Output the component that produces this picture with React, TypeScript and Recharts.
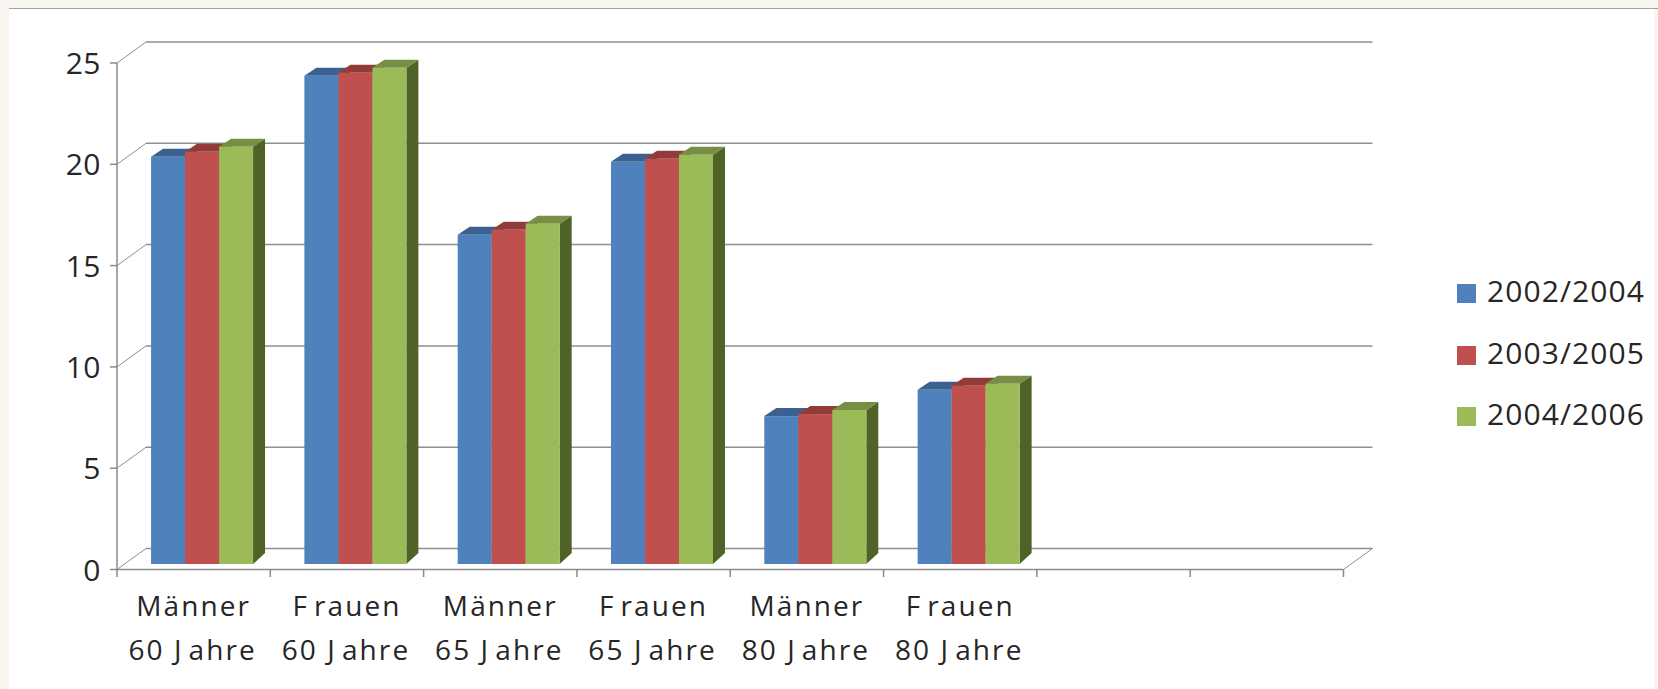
import React from "react";
import { BarChart, Bar, XAxis, YAxis, CartesianGrid, Legend } from "recharts";

const categories = ["Männer|60 Jahre", "Frauen|60 Jahre", "Männer|65 Jahre", "Frauen|65 Jahre", "Männer|80 Jahre", "Frauen|80 Jahre", " ", "  "];
const s2002: (number | null)[] = [20.1, 24.1, 16.25, 19.85, 7.3, 8.6, null, null];
const s2003: (number | null)[] = [20.35, 24.25, 16.5, 20.0, 7.4, 8.8, null, null];
const s2004: (number | null)[] = [20.6, 24.5, 16.8, 20.2, 7.6, 8.9, null, null];
const yTicks = [0, 5, 10, 15, 20, 25];
const seriesNames = ["2002/2004", "2003/2005", "2004/2006"];

const rows = categories.map((c, i) => ({ cat: c, a: s2002[i], b: s2003[i], c: s2004[i] }));

const FONT = "'Open Sans', sans-serif";
const TEXT = "#262626";
const AXIS = "#8a8a8a";
const GRID = "#8f8f8f";
const WALL_DX = 29;
const WALL_DY = 21;
const BAR_DX = 8;
const BAR_DY = 5.5;

const Bar3D = (front: string, top: string, side: string) => (p: any) => {
  if (p.value == null || !p.height) return <g />;
  const x = p.x + BAR_DX;
  const y = p.y - BAR_DY;
  const w = p.width;
  const b = y + p.height;
  const dx = 12;
  return (
    <g>
      <polygon points={`${x + w},${y} ${x + w + dx},${y - 8} ${x + w + dx},${b - 11} ${x + w},${b}`} fill={side} />
      <polygon points={`${x},${y} ${x + dx},${y - 8} ${x + w + dx},${y - 8} ${x + w},${y}`} fill={top} />
      <rect x={x} y={y} width={w} height={p.height} fill={front} />
    </g>
  );
};

const GridLine = (p: any) => {
  const bottom = p.y + p.height;
  const isFloor = Math.abs(p.y1 - bottom) < 1;
  const yb = p.y1 - WALL_DY;
  return (
    <g key={p.key}>
      <line x1={p.x1} y1={p.y1} x2={p.x1 + WALL_DX} y2={yb} stroke={GRID} strokeWidth={1} />
      <line x1={p.x1 + WALL_DX} y1={yb} x2={p.x2 + WALL_DX} y2={yb} stroke={GRID} strokeWidth={1.5} />
      {isFloor && <line x1={p.x2} y1={p.y1} x2={p.x2 + WALL_DX} y2={yb} stroke={GRID} strokeWidth={1} />}
    </g>
  );
};

// The reference renders a wide gap after the capitals F and J.
const Spaced = ({ text }: { text: string }) => {
  const m = text.match(/^(.*?)([FJ])(.*)$/);
  if (!m) return <>{text}</>;
  return (
    <>
      {m[1]}
      {m[2]}
      <tspan dx={5}>{m[3]}</tspan>
    </>
  );
};

const XTick = (p: any) => {
  const [l1, l2] = String(p.payload.value).split("|");
  const off = p.payload.offset ?? 0;
  const last = p.index === categories.length - 1;
  return (
    <g>
      <line x1={p.x - off} x2={p.x - off} y1={569.5} y2={577} stroke={AXIS} strokeWidth={1.5} />
      {last && <line x1={p.x + off} x2={p.x + off} y1={569.5} y2={577} stroke={AXIS} strokeWidth={1.5} />}
      {l2 && (
        <g fontFamily={FONT} fontSize={28} fill={TEXT} letterSpacing={2.1} textAnchor="middle">
          <text x={p.x} y={616}><Spaced text={l1} /></text>
          <text x={p.x - 1} y={660}><Spaced text={l2} /></text>
        </g>
      )}
    </g>
  );
};

const YTick = (p: any) => (
  <text x={p.x} y={p.y + 11} textAnchor="end" fontFamily={FONT} fontSize={30} letterSpacing={0.5} fill={TEXT}>
    {p.payload.value}
  </text>
);

const LegendBox = (p: any) => {
  const tops = [284, 346, 407];
  return (
    <div style={{ position: "relative", width: 200, height: 160 }}>
      {(p.payload || []).map((e: any, i: number) => (
        <div key={e.value} style={{ position: "absolute", left: 0, top: tops[i] - 285, height: 19, display: "flex", alignItems: "center" }}>
          <span style={{ width: 19, height: 19, background: e.color, display: "inline-block", marginRight: 11 }} />
          <span style={{ fontFamily: FONT, fontSize: 30, letterSpacing: 1.1, color: TEXT, lineHeight: "19px", whiteSpace: "nowrap", position: "relative", top: -3 }}>{e.value}</span>
        </div>
      ))}
    </div>
  );
};

export default function App() {
  return (
    <div style={{ position: "absolute", left: 0, top: 0, width: 1658, height: 689, background: "#f8f5ee", overflow: "hidden" }}>
      <div style={{ position: "absolute", left: 9, top: 9, width: 1645, height: 680, background: "#ffffff" }} />
      <div style={{ position: "absolute", left: 9, top: 7.5, width: 1649, height: 1.5, background: "#a3a3a3" }} />
      <div style={{ position: "absolute", left: 0, top: 0 }}>
        <BarChart
          width={1658}
          height={689}
          data={rows}
          margin={{ top: 63, right: 314.5, bottom: 59.5, left: 57 }}
          barGap={0}
          barCategoryGap="17%"
        >
          <CartesianGrid vertical={false} horizontal={GridLine as any} />
          <XAxis dataKey="cat" height={60} interval={0} tick={XTick as any} tickLine={false} axisLine={{ stroke: AXIS, strokeWidth: 1.5 }} />
          <YAxis width={60} domain={[0, 25]} ticks={yTicks} tick={YTick as any} tickSize={7} tickMargin={9} axisLine={{ stroke: AXIS, strokeWidth: 1.5 }} tickLine={{ stroke: AXIS, strokeWidth: 1.5 }} />
          <Legend content={LegendBox as any} layout="vertical" align="center" verticalAlign="middle" wrapperStyle={{ left: 1457, top: 285, width: 200, bottom: "auto" }} />
          <Bar dataKey="a" name={seriesNames[0]} fill="#4f81bd" isAnimationActive={false} shape={Bar3D("#4f81bd", "#3a618f", "#35567e") as any} />
          <Bar dataKey="b" name={seriesNames[1]} fill="#c0504d" isAnimationActive={false} shape={Bar3D("#c0504d", "#923c3a", "#7f3533") as any} />
          <Bar dataKey="c" name={seriesNames[2]} fill="#9bbb59" isAnimationActive={false} shape={Bar3D("#9bbb59", "#768f44", "#4f6228") as any} />
        </BarChart>
      </div>
    </div>
  );
}
